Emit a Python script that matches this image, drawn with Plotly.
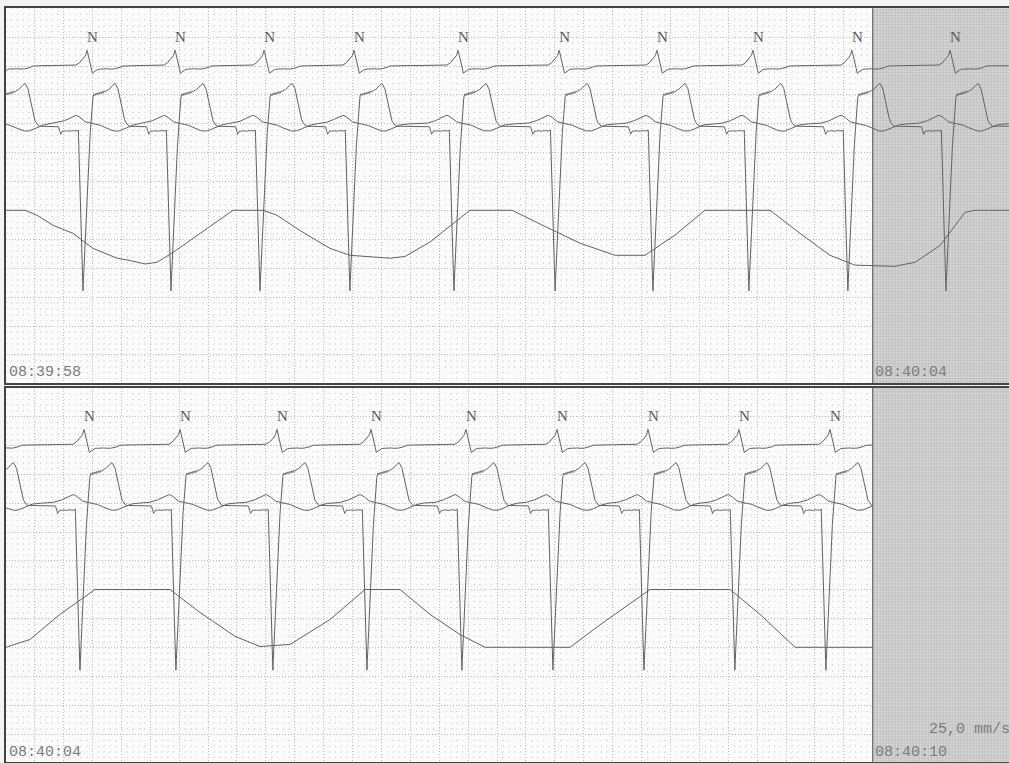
import numpy as np
import plotly.graph_objects as go

# ---------------- data (time in s from strip start, amplitude in mm of paper) ----------------
TOP_R = [-0.060, 0.563, 1.172, 1.788, 2.410, 3.130, 3.830, 4.507, 5.171, 5.856, 6.535, 7.215]
BOT_R = [-0.140, 0.542, 1.206, 1.877, 2.528, 3.185, 3.815, 4.445, 5.074, 5.704, 6.385]
TOP_N = [0.563, 1.172, 1.788, 2.410, 3.130, 3.830, 4.507, 5.171, 5.856, 6.535]
BOT_N = [0.542, 1.206, 1.877, 2.528, 3.185, 3.815, 4.445, 5.074, 5.704]

# beat shapes (ms from R, mm)
LEAD1_MS = [-90, -60, -42, -35, -28, -14, 0, 12, 25, 37, 50, 64, 80, 110, 140, 170, 200, 225, 238, 260]
LEAD1_MM = [0, 0.3, 0.85, 0.9, 1.1, 1.5, 2.7, 1.6, 0.1, -1.3, -1.0, -0.75, -0.55, -0.6, -0.5, -0.6, -0.5, -0.35, -0.1, 0]

LEAD2_MS = [-200, -194, -188, -182, -176, -168, -158, -148, -138, -128, -118, -108, -98, -88, -78, -68,
            -60, -52, -28, 3, 33, 42, 48, 55, 62, 69, 76, 83, 90, 97, 104, 111, 118, 125, 135, 145,
            160, 175, 194, 205, 215, 235, 261, 284]
LEAD2_MM = [0, -0.3, -0.9, -1.4, -1.1, -0.8, -0.95, -0.7, -0.9, -0.75, -0.95, -0.7, -0.85, -0.7, -0.9, -0.75,
            -0.7, -9.3, -28.5, -9.3, 3.6, 5.2, 5.6, 5.3, 5.7, 5.4, 5.8, 5.5, 5.9, 5.6, 6.0, 5.7, 6.1, 5.9, 6.3, 6.2,
            6.7, 7.0, 7.4, 7.0, 6.4, 3.8, 1.0, 0]

LEAD3_MS = [-240, -200, -160, -130, -100, -76, -55, -35, -15, 5, 30, 60, 100, 140, 180, 210, 240, 280, 320, 360]
LEAD3_MM = [0, 0.2, 0.5, 0.9, 1.3, 1.5, 1.3, 0.8, 0.4, 0.2, 0.1, 0.0, -0.3, -0.8, -1.2, -1.3, -1.1, -0.6, -0.2, 0]

# respiration breakpoints (s, mm below the flat top)
RESP_TOP_T = [0.0, 0.134, 0.217, 0.327, 0.466, 0.604, 0.770, 0.860, 0.964, 1.047, 1.158, 1.345, 1.573, 1.781,
              1.878, 2.036, 2.244, 2.383, 2.659, 2.763, 2.936, 3.213, 3.504, 3.732, 3.974, 4.217, 4.424, 4.632,
              4.839, 5.289, 5.497, 5.704, 5.877, 6.154, 6.293, 6.466, 6.639, 6.709, 6.943]
RESP_TOP_V = [0, 0, -0.87, -2.6, -4.0, -6.6, -8.3, -8.7, -9.3, -9.0, -7.3, -4.0, 0, 0,
              -0.87, -3.5, -6.6, -7.8, -8.3, -8.0, -5.5, 0, 0, -2.8, -5.7, -7.8, -7.8, -4.3,
              0, 0, -4.0, -7.8, -9.5, -9.7, -9.0, -6.1, -0.35, 0, 0]
RESP_BOT_T = [0.0, 0.168, 0.376, 0.618, 1.137, 1.345, 1.587, 1.760, 1.968, 2.244, 2.487, 2.729, 2.936, 3.144,
              3.318, 3.905, 4.113, 4.459, 5.013, 5.220, 5.463, 6.0]
RESP_BOT_V = [-10.0, -8.65, -4.3, 0, 0, -3.98, -8.1, -9.86, -9.5, -5.2, 0, 0, -4.3, -7.8,
              -10.0, -10.0, -6.1, 0, 0, -4.3, -10.0, -10.0]

STAMPS_TOP = ["08:39:58", "08:40:04"]
STAMPS_BOT = ["08:40:04", "08:40:10"]
SPEED = "25,0 mm/s"

# ---------------- layout constants ----------------
TOP_END = 6.943
BOT_END = 6.0
H_TOP = 64.9
H_BOT = 64.74
BASE1, BASE2, BASE3, BASE_R = -9.95, -20.4, -20.0, -34.95
TRACE = "#626262"


def build(t, beats, ms, mm):
    y = np.zeros_like(t)
    for b in beats:
        y += np.interp(t, b + np.array(ms) / 1000.0, mm, left=0, right=0)
    return y


def time_grid(end, beats):
    pts = [np.arange(0, end, 0.001)]
    for b in beats:
        for ms in (LEAD1_MS, LEAD2_MS, LEAD3_MS):
            pts.append(b + np.array(ms) / 1000.0)
    t = np.unique(np.concatenate(pts))
    return t[(t >= 0) & (t <= end)]


fig = go.Figure()

panels = [
    ("x", "y", TOP_R, TOP_N, TOP_END, H_TOP, RESP_TOP_T, RESP_TOP_V),
    ("x2", "y2", BOT_R, BOT_N, BOT_END, H_BOT, RESP_BOT_T, RESP_BOT_V),
]

for xa, ya, beats, nlab, end, h, rt, rv in panels:
    # shaded (halftone) area after 6 s
    fig.add_trace(go.Scatter(
        x=[6.0, 7.5, 7.5, 6.0, 6.0], y=[-h - 5, -h - 5, 5, 5, -h - 5], xaxis=xa, yaxis=ya,
        mode="lines", fill="toself", line=dict(width=0),
        fillcolor="#cfcfcf",
        fillpattern=dict(shape=".", fgcolor="#8a8a8a", bgcolor="#dedede", size=3, solidity=0.45),
        hoverinfo="skip", showlegend=False))
    fig.add_trace(go.Scatter(x=[6.0, 6.0], y=[-h - 5, 5], xaxis=xa, yaxis=ya, mode="lines",
                             line=dict(color="#555", width=1), hoverinfo="skip", showlegend=False))

    t = time_grid(end, beats)
    l1 = BASE1 + build(t, beats, LEAD1_MS, LEAD1_MM)
    l2 = BASE2 + build(t, beats, LEAD2_MS, LEAD2_MM)
    l3 = BASE3 + build(t, beats, LEAD3_MS, LEAD3_MM)
    resp_y = BASE_R + np.array(rv)
    fig.add_trace(go.Scatter(x=rt, y=resp_y, xaxis=xa, yaxis=ya, mode="lines",
                             line=dict(color=TRACE, width=1), showlegend=False))
    for yy in (l3, l2, l1):
        fig.add_trace(go.Scatter(x=t, y=yy, xaxis=xa, yaxis=ya, mode="lines",
                                 line=dict(color=TRACE, width=1), showlegend=False))
    fig.add_trace(go.Scatter(x=np.array(nlab) + 0.038, y=[-5.2] * len(nlab), xaxis=xa, yaxis=ya,
                             mode="text", text=["N"] * len(nlab),
                             textfont=dict(family="Liberation Serif", size=15, color="#5a5a5a"),
                             showlegend=False))

mono = dict(family="Liberation Mono", size=15, color="#7c7c7c")
ann = []
for (xr, yr, stamps, yv) in (("x", "y", STAMPS_TOP, -63.1), ("x2", "y2", STAMPS_BOT, -63.2)):
    ann.append(dict(x=0.008, y=yv, xref=xr, yref=yr, text=stamps[0], showarrow=False,
                    xanchor="left", yanchor="middle", font=mono))
    ann.append(dict(x=6.002, y=yv, xref=xr, yref=yr, text=stamps[1], showarrow=False,
                    xanchor="left", yanchor="middle", font=mono))
ann.append(dict(x=6.376, y=-59.1, xref="x2", yref="y2", text=SPEED, showarrow=False,
                xanchor="left", yanchor="middle", font=mono))

W, H = 1009, 763
xdom = [5.7 / W, 1.0]
ydom_top = [(H - 383.3) / H, (H - 8.3) / H]
ydom_bot = [(H - 761.7) / H, (H - 387.5) / H]


def xax(end, dom):
    return dict(domain=dom, range=[0, end], showticklabels=False, ticks="", zeroline=False,
                showline=True, mirror=True, linecolor="#444", linewidth=1.5,
                tick0=0, dtick=0.2, showgrid=True, gridcolor="#bdbdbd", gridwidth=1, griddash="1px,2px",
                minor=dict(tick0=0, dtick=0.04, showgrid=True, gridcolor="#dadada", gridwidth=1,
                           griddash="1px,4.78px"))


def yax(h, dom, anchor):
    return dict(domain=dom, range=[-h, 0], anchor=anchor, showticklabels=False, ticks="", zeroline=False,
                showline=True, mirror=False, linecolor="#444", linewidth=1.5,
                tick0=0, dtick=5, showgrid=True, gridcolor="#bdbdbd", gridwidth=1, griddash="1px,2px",
                minor=dict(tick0=0, dtick=1, showgrid=True, gridcolor="#dadada", gridwidth=1,
                           griddash="1px,4.78px"))


fig.update_layout(
    width=W, height=H, margin=dict(l=0, r=0, t=0, b=0),
    paper_bgcolor="#f3f3f3", plot_bgcolor="#fbfbfb",
    xaxis=dict(xax(TOP_END, xdom), anchor="y"),
    yaxis=yax(H_TOP, ydom_top, "x"),
    xaxis2=dict(xax(TOP_END, xdom), anchor="y2"),
    yaxis2=yax(H_BOT, ydom_bot, "x2"),
    annotations=ann, showlegend=False,
)

fig.write_html("out.html", config={"displayModeBar": False},
               post_script="document.body.style.margin='0';document.body.style.overflow='hidden';")
